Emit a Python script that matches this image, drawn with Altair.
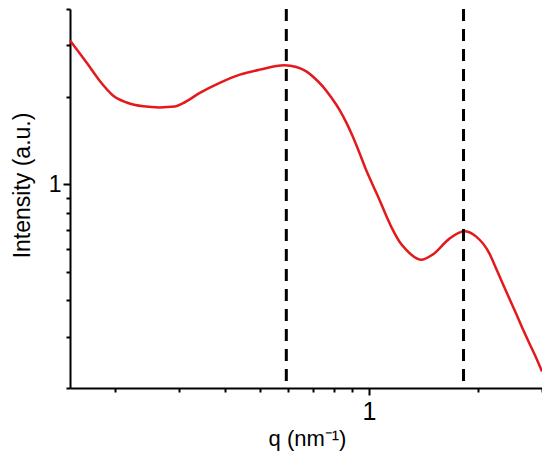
import altair as alt
import pandas as pd

# Curve (q in nm^-1, intensity in a.u.)
q_values = [0.15, 0.167, 0.1815, 0.197, 0.215, 0.239, 0.265, 0.292, 0.3075, 0.342,
            0.388, 0.441, 0.50, 0.585, 0.631, 0.672, 0.708, 0.746, 0.787, 0.829,
            0.866, 0.902, 0.942, 0.982, 1.024, 1.069, 1.115, 1.163, 1.213, 1.266,
            1.32, 1.392, 1.498, 1.665, 1.831, 1.972, 2.146, 2.239, 2.334, 2.435,
            2.541, 2.65, 2.764, 2.884, 3.0]
intensity = [3.12, 2.61, 2.26, 2.02, 1.91, 1.853, 1.838, 1.85, 1.90, 2.06,
             2.23, 2.38, 2.477, 2.562, 2.529, 2.443, 2.319, 2.17, 1.99, 1.805,
             1.632, 1.462, 1.282, 1.123, 0.998, 0.886, 0.783, 0.699, 0.637, 0.597,
             0.569, 0.551, 0.574, 0.65, 0.69, 0.663, 0.581, 0.516, 0.459, 0.407,
             0.362, 0.321, 0.286, 0.2556, 0.228]

peak_q = [0.592, 1.823]

x_ticks = [0.2, 0.3, 0.4, 0.5, 0.6, 0.7, 0.8, 0.9, 1, 2, 3]
y_ticks = [0.2, 0.3, 0.4, 0.5, 0.6, 0.7, 0.8, 0.9, 1, 2, 3, 4]

curve = pd.DataFrame({"q": q_values, "I": intensity})
peaks = pd.DataFrame({"q": peak_q})

FONT = "Liberation Sans"

xscale = alt.Scale(type="log", domain=[0.15, 3], nice=False)
yscale = alt.Scale(type="log", domain=[0.2, 4], nice=False)

tick_size = {"condition": {"test": "datum.value == 1", "value": 7}, "value": 4}

x_axis = alt.Axis(
    values=x_ticks,
    labelExpr="datum.value == 1 ? '1' : ''",
    tickSize=tick_size, tickWidth=2, tickColor="black",
    domainWidth=2, domainColor="black",
    labelFont=FONT, labelFontSize=25, labelColor="black", labelPadding=4,
    labelFlush=False, labelOverlap=False, grid=False,
    title="q (nm⁻¹)", titleFont=FONT, titleFontSize=22, titleFontWeight="normal",
    titleColor="black", titleX=237, titleY=50, titleBaseline="middle", titleAlign="center",
)
y_axis = alt.Axis(
    values=y_ticks,
    labelExpr="datum.value == 1 ? '1' : ''",
    tickSize=tick_size, tickWidth=2, tickColor="black",
    domainWidth=2, domainColor="black",
    labelFont=FONT, labelFontSize=23, labelColor="black", labelPadding=2,
    labelFlush=False, labelOverlap=False, grid=False,
    title="Intensity (a.u.)", titleFont=FONT, titleFontSize=23, titleFontWeight="normal",
    titleColor="black", titleX=-48, titleY=176, titleAngle=-90,
    titleBaseline="middle", titleAlign="center",
)

line = alt.Chart(curve).mark_line(
    color="#e3191c", strokeWidth=2.5, interpolate="monotone"
).encode(
    x=alt.X("q:Q", scale=xscale, axis=x_axis),
    y=alt.Y("I:Q", scale=yscale, axis=y_axis),
)

rules = alt.Chart(peaks).mark_rule(
    color="black", strokeWidth=3, strokeDash=[12, 8]
).encode(
    x=alt.X("q:Q", scale=xscale),
)

chart = alt.layer(line, rules).properties(
    width=472, height=379,
    autosize=alt.AutoSizeParams(type="none"),
    padding={"left": 62, "top": 1, "right": 0, "bottom": 67},
).configure_view(stroke=None)

chart.save("out.html", embed_options={"renderer": "svg", "actions": False})
